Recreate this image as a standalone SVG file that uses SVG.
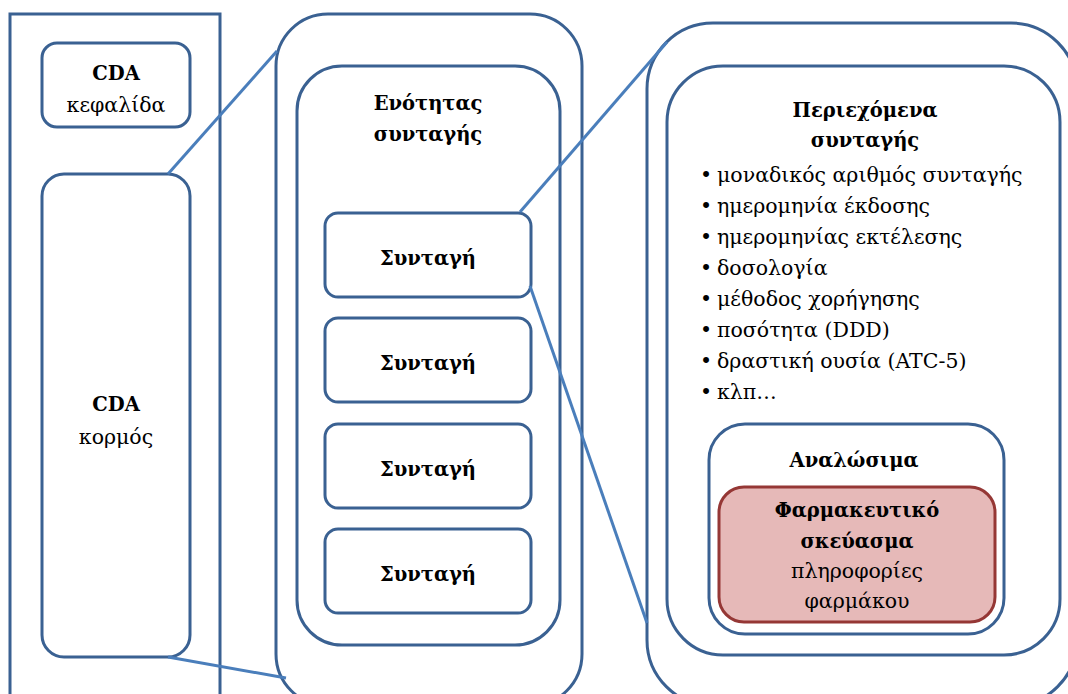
<svg xmlns="http://www.w3.org/2000/svg" width="1068" height="694" viewBox="0 0 1068 694" font-family="'DejaVu Serif', serif">
<style>
.box{fill:#fff;stroke:#3A6192;stroke-width:3}
.pink{fill:#E6B9B8;stroke:#953735;stroke-width:3}
.conn{stroke:#4A7EBB;stroke-width:3;fill:none}
text{font-size:20.5px;fill:#000;text-anchor:middle}
.b{font-weight:bold;font-size:19.5px}
.l{text-anchor:start}
</style>
<rect width="1068" height="694" fill="#fff"/>
<g id="cda">
<rect class="box" x="10" y="14" width="210" height="700"/>
</g>
<g id="cda-header">
<rect class="box" x="42" y="43" width="148" height="84" rx="15"/>
<text class="b" x="116" y="80">CDA</text>
<text x="116" y="112">κεφαλίδα</text>
</g>
<g id="cda-body">
<rect class="box" x="42" y="174" width="148" height="483" rx="22"/>
<text class="b" x="116" y="411">CDA</text>
<text x="116" y="444">κορμός</text>
</g>
<g id="section-outer">
<rect class="box" x="276" y="14" width="306" height="692" rx="52"/>
</g>
<g id="section">
<rect class="box" x="297" y="66" width="263" height="579" rx="45"/>
<text class="b" x="428" y="110">Ενότητας</text>
<text class="b" x="428" y="141">συνταγής</text>
</g>
<g id="rx1"><rect class="box" x="325" y="213" width="206" height="84" rx="13"/><text class="b" x="428" y="265">Συνταγή</text></g>
<g id="rx2"><rect class="box" x="325" y="318" width="206" height="84" rx="13"/><text class="b" x="428" y="370">Συνταγή</text></g>
<g id="rx3"><rect class="box" x="325" y="424" width="206" height="84" rx="13"/><text class="b" x="428" y="476">Συνταγή</text></g>
<g id="rx4"><rect class="box" x="325" y="529" width="206" height="84" rx="13"/><text class="b" x="428" y="581">Συνταγή</text></g>
<g id="content-outer">
<rect class="box" x="647" y="23" width="430" height="683" rx="66"/>
</g>
<g id="content">
<rect class="box" x="667" y="66" width="393" height="589" rx="56"/>
<text class="b" x="865" y="117">Περιεχόμενα</text>
<text class="b" x="865" y="147">συνταγής</text>
<g class="list">
<text class="l" x="700" y="182">•</text><text class="l" x="717" y="182">μοναδικός αριθμός συνταγής</text>
<text class="l" x="700" y="213">•</text><text class="l" x="717" y="213">ημερομηνία έκδοσης</text>
<text class="l" x="700" y="244">•</text><text class="l" x="717" y="244">ημερομηνίας εκτέλεσης</text>
<text class="l" x="700" y="275">•</text><text class="l" x="717" y="275">δοσολογία</text>
<text class="l" x="700" y="306">•</text><text class="l" x="717" y="306">μέθοδος χορήγησης</text>
<text class="l" x="700" y="337">•</text><text class="l" x="717" y="337">ποσότητα (DDD)</text>
<text class="l" x="700" y="368">•</text><text class="l" x="717" y="368">δραστική ουσία (ATC-5)</text>
<text class="l" x="700" y="399">•</text><text class="l" x="717" y="399">κλπ…</text>
</g>
</g>
<g id="consumables">
<rect class="box" x="709" y="424" width="295" height="210" rx="36"/>
<text class="b" x="854" y="467">Αναλώσιμα</text>
</g>
<g id="drug">
<rect class="pink" x="719" y="487" width="276" height="135" rx="25"/>
<text class="b" x="857" y="517">Φαρμακευτικό</text>
<text class="b" x="857" y="548">σκεύασμα</text>
<text x="857" y="578">πληροφορίες</text>
<text x="857" y="608">φαρμάκου</text>
</g>
<g id="connectors">
<line class="conn" x1="168" y1="174" x2="277" y2="51"/>
<line class="conn" x1="168" y1="657" x2="286" y2="678"/>
<line class="conn" x1="520" y1="212" x2="667" y2="42"/>
<line class="conn" x1="530" y1="286" x2="647" y2="623"/>
</g>
</svg>
